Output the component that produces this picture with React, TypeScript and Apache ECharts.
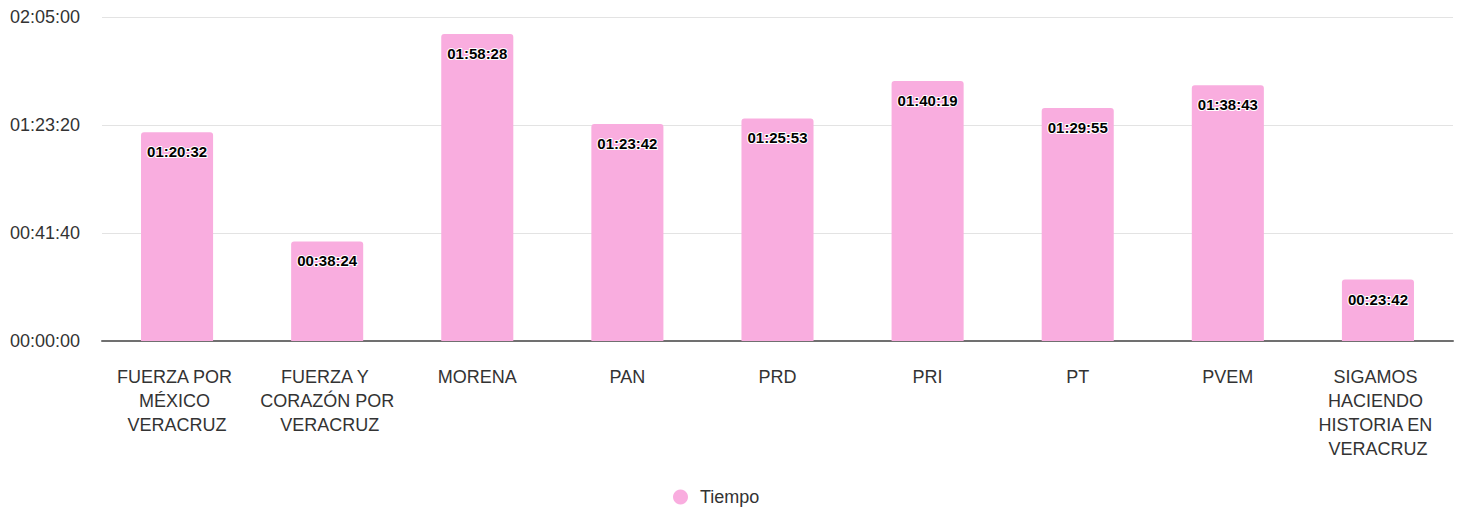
import React, { useEffect, useRef } from "react";
import * as echarts from "echarts";

const categories = [
  "FUERZA POR MÉXICO VERACRUZ",
  "FUERZA Y CORAZÓN POR VERACRUZ",
  "MORENA",
  "PAN",
  "PRD",
  "PRI",
  "PT",
  "PVEM",
  "SIGAMOS HACIENDO HISTORIA EN VERACRUZ",
];
// seconds
const tiempo = [4832, 2304, 7108, 5022, 5153, 6019, 5395, 5923, 1422];
const seriesName = "Tiempo";

const pad = (n: number) => String(n).padStart(2, "0");
const fmt = (s: number) => {
  const h = Math.floor(s / 3600);
  const m = Math.floor((s % 3600) / 60);
  const sec = Math.round(s % 60);
  return `${pad(h)}:${pad(m)}:${pad(sec)}`;
};

export default function App() {
  const ref = useRef<HTMLDivElement>(null);
  useEffect(() => {
    if (!ref.current) return;
    const chart = echarts.init(ref.current, undefined, { renderer: "svg" });
    const font = "Liberation Sans, Arial, Helvetica, sans-serif";
    chart.setOption({
      animation: false,
      textStyle: { fontFamily: font },
      grid: { left: 102, right: 7, top: 17, bottom: 167, containLabel: false },
      legend: {
        top: 488,
        left: 673,
        icon: "circle",
        itemWidth: 15,
        itemHeight: 15,
        itemGap: 10,
        padding: 0,
        textStyle: {
          fontSize: 18,
          color: "#333",
          fontFamily: font,
          padding: [0, 0, 0, 7],
        },
        data: [seriesName],
      },
      xAxis: {
        type: "category",
        data: categories,
        axisTick: { show: false },
        axisLine: { lineStyle: { color: "#707070", width: 2 } },
        axisLabel: {
          interval: 0,
          fontSize: 18,
          color: "#333",
          lineHeight: 24,
          margin: 24,
          width: 142,
          overflow: "break",
          fontFamily: font,
        },
      },
      yAxis: {
        type: "value",
        min: 0,
        max: 7500,
        interval: 2500,
        axisLine: { show: false },
        axisTick: { show: false },
        splitLine: { lineStyle: { color: "#e3e3e3", width: 1 } },
        axisLabel: {
          fontSize: 18,
          color: "#333",
          margin: 22,
          formatter: (v: number) => fmt(v),
          fontFamily: font,
        },
      },
      series: [
        {
          name: seriesName,
          type: "bar",
          data: tiempo,
          barWidth: "48%",
          itemStyle: { color: "#f9addf", borderRadius: [3, 3, 0, 0] },
          label: {
            show: true,
            position: "insideTop",
            distance: 12,
            formatter: (p: any) => fmt(p.value),
            fontSize: 15,
            fontWeight: "bold",
            color: "#000",
            textBorderColor: "#fff",
            textBorderWidth: 2,
            fontFamily: font,
          },
        },
      ],
    });
    return () => chart.dispose();
  }, []);
  return (
    <div
      ref={ref}
      style={{ position: "absolute", left: 0, top: 0, width: 1460, height: 508 }}
    />
  );
}
